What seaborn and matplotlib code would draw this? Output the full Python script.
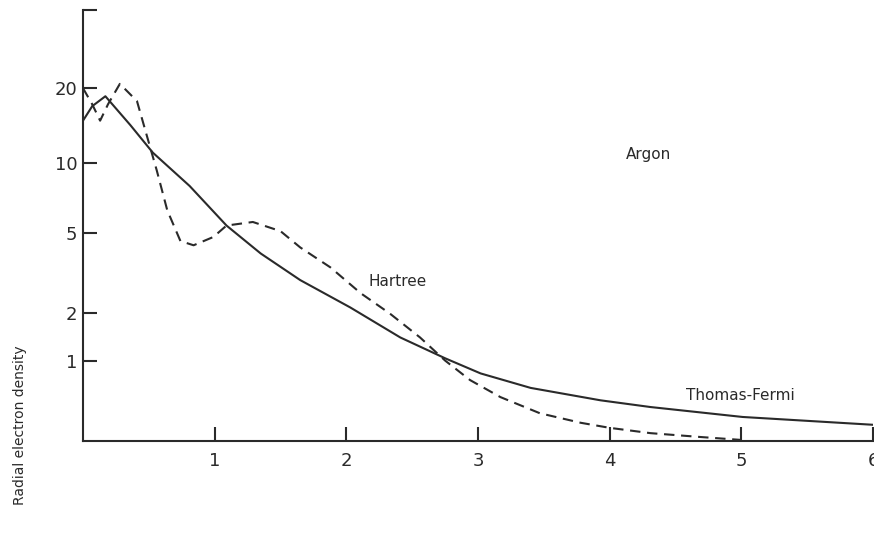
import numpy as np
import pandas as pd
import matplotlib
matplotlib.use("Agg")
import matplotlib.pyplot as plt
import seaborn as sns

# values (radius vs radial electron density)
tf_r = [0.0, 0.07, 0.17, 0.36, 0.53, 0.81, 1.09, 1.35, 1.65, 2.03, 2.41, 2.75,
        3.02, 3.40, 3.93, 4.31, 5.01, 6.0]
tf_rho = [14.8, 16.9, 18.5, 14.2, 11.0, 8.0, 5.4, 4.03, 3.0, 2.16, 1.44, 1.04,
          0.79, 0.58, 0.42, 0.34, 0.23, 0.15]

hartree_r = [0.0, 0.07, 0.13, 0.19, 0.28, 0.41, 0.49, 0.56, 0.64, 0.74, 0.84,
             0.99, 1.09, 1.29, 1.50, 1.65, 1.88, 2.11, 2.33, 2.56, 2.75, 2.94,
             3.17, 3.47, 3.78, 4.0, 4.31, 4.69, 4.99]
hartree_rho = [19.9, 17.2, 14.8, 17.2, 20.7, 17.7, 12.6, 9.3, 6.3, 4.6, 4.4,
               4.8, 5.4, 5.6, 5.1, 4.3, 3.46, 2.57, 2.0, 1.44, 1.0, 0.69,
               0.46, 0.27, 0.17, 0.12, 0.07, 0.035, 0.01]

y_ticks = [1, 2, 5, 10, 20, 40]
y_labels = ["1", "2", "5", "10", "20", ""]
x_ticks = [1, 2, 3, 4, 5, 6]

df_tf = pd.DataFrame({"r": tf_r, "rho": tf_rho})
df_h = pd.DataFrame({"r": hartree_r, "rho": hartree_rho})

sns.set_style("ticks")
plt.rcParams["font.family"] = ["DejaVu Sans"]

ink = "#2a2a2a"
fig = plt.figure(figsize=(8.74, 5.44), dpi=100)
ax = fig.add_axes([83 / 874, 103 / 544, 790 / 874, 431 / 544])

# the paper's axis is linear in log(1 + rho)
ax.set_yscale("function",
              functions=(lambda y: np.log10(1 + np.asarray(y)),
                         lambda v: 10 ** np.asarray(v) - 1))

sns.lineplot(data=df_tf, x="r", y="rho", ax=ax, color=ink, linewidth=1.5,
             estimator=None, sort=False)
sns.lineplot(data=df_h, x="r", y="rho", ax=ax, color=ink, linewidth=1.5,
             estimator=None, sort=False, linestyle=(0, (5, 3.2)))

ax.set_xlim(0, 6)
ax.set_ylim(0, 40)
ax.set_xticks(x_ticks)
ax.set_yticks(y_ticks)
ax.set_yticklabels(y_labels)
ax.minorticks_off()
ax.tick_params(direction="in", length=10, width=1.5, color=ink,
               labelcolor=ink, labelsize=13)
ax.tick_params(axis="x", pad=8)
ax.tick_params(axis="y", pad=4)

sns.despine(ax=ax)
for s in ["left", "bottom"]:
    ax.spines[s].set_linewidth(1.5)
    ax.spines[s].set_color(ink)
ax.set_xlabel("")
ax.set_ylabel("")

# annotations, placed in figure pixels measured from the top-left
def label(px, py, s):
    fig.text(px / 874, 1 - py / 544, s, fontsize=11, color=ink,
             ha="center", va="center")

label(648, 154, "Argon")
label(398, 281, "Hartree")
label(740, 395, "Thomas-Fermi")

fig.text(20 / 874, 1 - 425 / 544, "Radial electron density", rotation=90,
         fontsize=10, color=ink, ha="center", va="center")

fig.savefig("out.png", dpi=100)
